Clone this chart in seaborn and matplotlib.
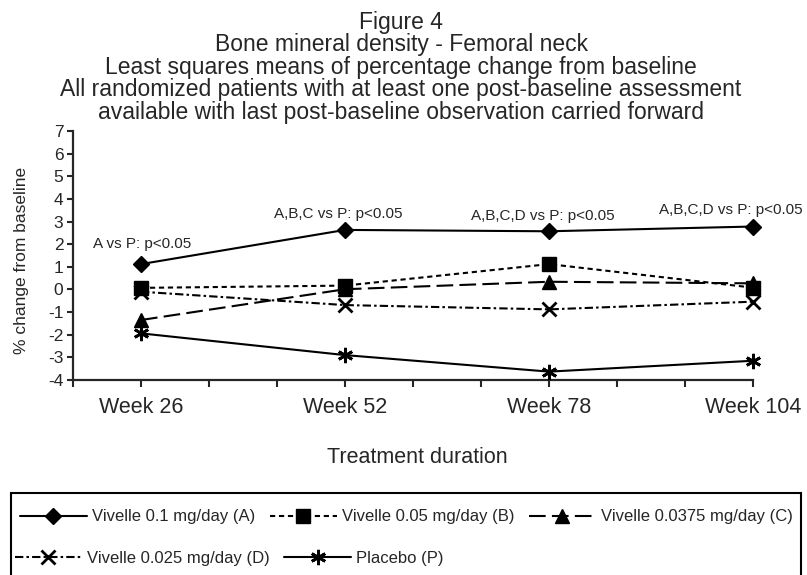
import numpy as np
import pandas as pd
import matplotlib
matplotlib.use("Agg")
import matplotlib.pyplot as plt
from matplotlib.patches import Rectangle
import seaborn as sns

# ---------------- data ----------------
weeks = [26, 52, 78, 104]
week_labels = ["Week 26", "Week 52", "Week 78", "Week 104"]
series_names = ["Vivelle 0.1 mg/day (A)", "Vivelle 0.05 mg/day (B)",
                "Vivelle 0.0375 mg/day (C)", "Vivelle 0.025 mg/day (D)",
                "Placebo (P)"]
vivelle_01 = [1.12, 2.63, 2.57, 2.78]
vivelle_005 = [0.07, 0.17, 1.12, 0.08]
vivelle_00375 = [-1.35, 0.01, 0.34, 0.27]
vivelle_0025 = [-0.10, -0.69, -0.88, -0.54]
placebo = [-1.94, -2.90, -3.63, -3.15]
values = [vivelle_01, vivelle_005, vivelle_00375, vivelle_0025, placebo]

annot_texts = ["A vs P: p<0.05", "A,B,C vs P: p<0.05",
               "A,B,C,D vs P: p<0.05", "A,B,C,D vs P: p<0.05"]
annot_x = [26.2, 51.2, 77.2, 101.2]
annot_y = [1.83, 3.16, 3.07, 3.33]

title_lines = ["Figure 4",
               "Bone mineral density - Femoral neck",
               "Least squares means of percentage change from baseline",
               "All randomized patients with at least one post-baseline assessment",
               "available with last post-baseline observation carried forward"]

# ---------------- styling ----------------
sns.set_style("ticks")
plt.rcParams["font.family"] = ["Liberation Sans", "DejaVu Sans"]
plt.rcParams["axes.linewidth"] = 1.6
plt.rcParams["axes.unicode_minus"] = False

styles = [
    dict(marker="D", ms=8.5, ls="-"),
    dict(marker="s", ms=9.5, ls=(0, (2.5, 1.8))),
    dict(marker="^", ms=9.5, ls=(0, (8, 3))),
    dict(marker="x", ms=10, ls=(0, (4, 1.5, 1.2, 1.5))),
    dict(marker=(6, 2, 0), ms=11, ls="-"),
]

fig = plt.figure(figsize=(8.07, 5.75), dpi=100)
ax = fig.add_axes([73 / 807, (575 - 380) / 575, 680 / 807, 249 / 575])

df = pd.DataFrame({"week": np.tile(weeks, len(series_names)),
                   "value": np.concatenate(values),
                   "series": np.repeat(series_names, len(weeks))})

for name, st in zip(series_names, styles):
    sub = df[df["series"] == name]
    sns.lineplot(data=sub, x="week", y="value", ax=ax, color="black",
                 marker=st["marker"], markersize=st["ms"], linestyle=st["ls"],
                 linewidth=1.5, markerfacecolor="black", markeredgecolor="black",
                 markeredgewidth=2 if st["marker"] in ("x", (6, 2, 0)) else 1,
                 label=name, legend=False, clip_on=False, zorder=3)

if ax.get_legend() is not None:
    ax.get_legend().remove()

step = 26 / 3
ax.set_xlim(weeks[0] - step, weeks[-1])
ax.set_ylim(-4, 7)
ax.set_yticks(range(-4, 8))
ax.tick_params(axis="y", labelsize=12.5, length=4, width=1.5, pad=3)
xt = np.arange(weeks[0] - step, weeks[-1] + 0.01, step)
xl = []
for t in xt:
    match = [lab for w, lab in zip(weeks, week_labels) if abs(w - t) < 0.01]
    xl.append(match[0] if match else "")
ax.set_xticks(xt)
ax.set_xticklabels(xl)
ax.tick_params(axis="x", labelsize=15.5, length=5, width=1.5, pad=7)
sns.despine(ax=ax)

ax.set_ylabel("% change from baseline", fontsize=12.5)
ax.yaxis.set_label_coords(-0.065, 0.48)
ax.set_xlabel("Treatment duration", fontsize=15.5)
ax.xaxis.set_label_coords(0.506, -0.27)

for t, x, y in zip(annot_texts, annot_x, annot_y):
    ax.text(x, y, t, ha="center", va="baseline", fontsize=11)

baselines = [29, 51, 74, 96, 119]
for line, b in zip(title_lines, baselines):
    fig.text(0.497, 1 - b / 575, line, ha="center", va="baseline", fontsize=16.5)

handles, labels = ax.get_legend_handles_labels()
common = dict(frameon=False, handlelength=4.0, handletextpad=0.3,
              columnspacing=0.9, fontsize=12, borderpad=0, borderaxespad=0,
              loc="center left")
fig.legend(handles[:3], labels[:3], ncol=3,
           bbox_to_anchor=(20 / 807, 1 - 517 / 575), **common)
fig.legend(handles[3:], labels[3:], ncol=2,
           bbox_to_anchor=(15 / 807, 1 - 558 / 575), **common)

fig.add_artist(Rectangle((11 / 807, -0.1), (801 - 11) / 807, (575 - 493) / 575 + 0.1,
                         transform=fig.transFigure, fill=False, lw=1.5,
                         ec="black", clip_on=False))

fig.savefig("out.png", dpi=100)
